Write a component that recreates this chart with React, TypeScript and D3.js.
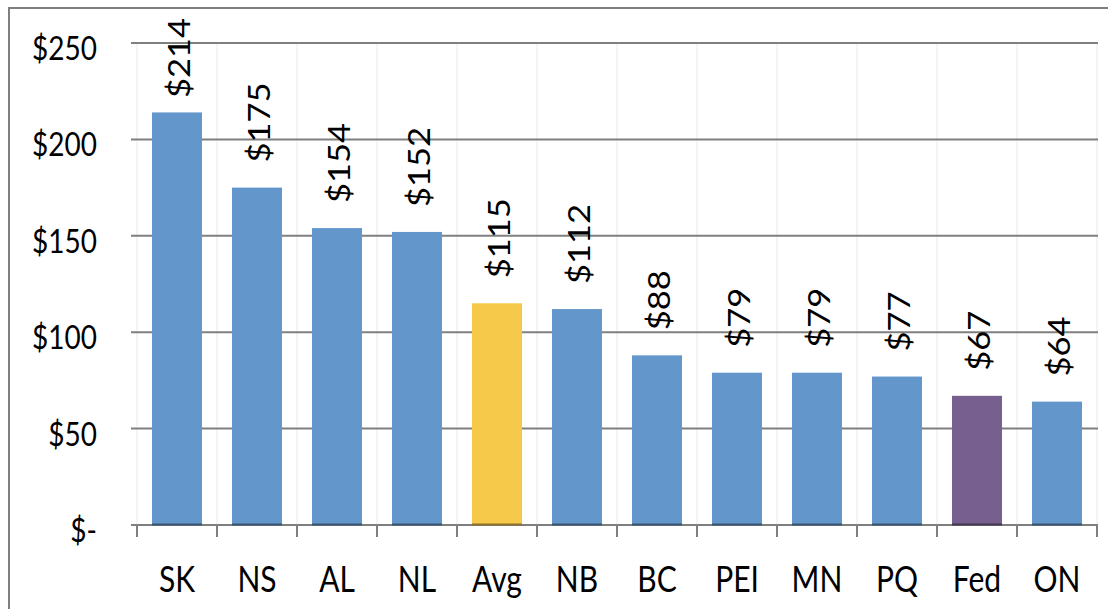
import React from "react";
import * as d3 from "d3";

const categories = ["SK", "NS", "AL", "NL", "Avg", "NB", "BC", "PEI", "MN", "PQ", "Fed", "ON"];
const values = [214, 175, 154, 152, 115, 112, 88, 79, 79, 77, 67, 64];
const barColors = ["#6397CB", "#6397CB", "#6397CB", "#6397CB", "#F7C94B", "#6397CB", "#6397CB", "#6397CB", "#6397CB", "#6397CB", "#77608F", "#6397CB"];
const yTicks = [0, 50, 100, 150, 200, 250];
const yTickLabels = ["$-", "$50", "$100", "$150", "$200", "$250"];

const W = 1108;
const H = 609;
const plotLeft = 137;
const plotRight = 1097;
const plotTop = 43;
const plotBottom = 525;
const FONT = "Lato, 'Open Sans', sans-serif";

export default function App() {
  const x = d3
    .scaleBand<string>()
    .domain(categories)
    .range([plotLeft, plotRight])
    .paddingInner(0.375)
    .paddingOuter(0.1875);
  const y = d3.scaleLinear().domain([0, 250]).range([plotBottom, plotTop]);
  const step = x.step();
  const boundaries = d3.range(categories.length + 1).map((i) => plotLeft + i * step);

  return (
    <svg
      width={W}
      height={H}
      style={{ position: "absolute", left: 0, top: 0, background: "#fff" }}
      fontFamily={FONT}
    >
      <rect x={0} y={0} width={W} height={H} fill="#fff" />
      {/* chart border (only top and left visible) */}
      <rect x={9} y={8} width={1300} height={1300} fill="none" stroke="#7f7f7f" strokeWidth={2} />

      {/* faint vertical gridlines */}
      {boundaries.map((bx, i) => (
        <line key={"vg" + i} x1={bx} x2={bx} y1={plotTop} y2={plotBottom} stroke="#f0f0f0" strokeWidth={1.5} />
      ))}

      {/* horizontal gridlines */}
      {yTicks.map((t) => (
        <line key={"hg" + t} x1={plotLeft - 6} x2={plotRight + 1} y1={y(t)} y2={y(t)} stroke="#7f7f7f" strokeWidth={2} />
      ))}

      {/* y labels */}
      {yTicks.map((t, i) => (
        <text
          key={"yl" + t}
          transform={`translate(97, ${y(t) + 4}) scale(1, 1.2)`}
          textAnchor="end"
          dominantBaseline="central"
          fontSize={28}
          fill="#000"
        >
          {yTickLabels[i]}
        </text>
      ))}

      {/* bars */}
      {categories.map((c, i) => {
        const bx = x(c)!;
        const by = y(values[i]);
        const bh = plotBottom - by;
        const dark = d3.color(barColors[i])!.darker(1.6).formatHex();
        return (
          <g key={"b" + c}>
            <rect x={bx} y={by} width={x.bandwidth()} height={bh} fill={barColors[i]} />
            <line x1={bx} x2={bx + x.bandwidth()} y1={plotBottom - 0.5} y2={plotBottom - 0.5} stroke={dark} strokeWidth={2} />
          </g>
        );
      })}

      {/* category tick marks */}
      {boundaries.map((bx, i) => (
        <line key={"tk" + i} x1={bx} x2={bx} y1={plotBottom} y2={plotBottom + 12} stroke="#7f7f7f" strokeWidth={2} />
      ))}

      {/* x labels */}
      {categories.map((c) => (
        <text
          key={"xl" + c}
          transform={`translate(${x(c)! + x.bandwidth() / 2}, 592) scale(1, 1.2)`}
          textAnchor="middle"
          fontSize={30}
          fill="#000"
        >
          {c}
        </text>
      ))}

      {/* data labels */}
      {categories.map((c, i) => {
        const cx = x(c)! + x.bandwidth() / 2;
        const ya = Math.max(y(values[i]) - 25, 98);
        return (
          <text
            key={"dl" + c}
            transform={`translate(${cx + 1}, ${ya}) rotate(-90) scale(1.15, 1)`}
            textAnchor="start"
            dominantBaseline="central"
            fontSize={30}
            fill="#000"
          >
            {"$" + values[i]}
          </text>
        );
      })}
    </svg>
  );
}
